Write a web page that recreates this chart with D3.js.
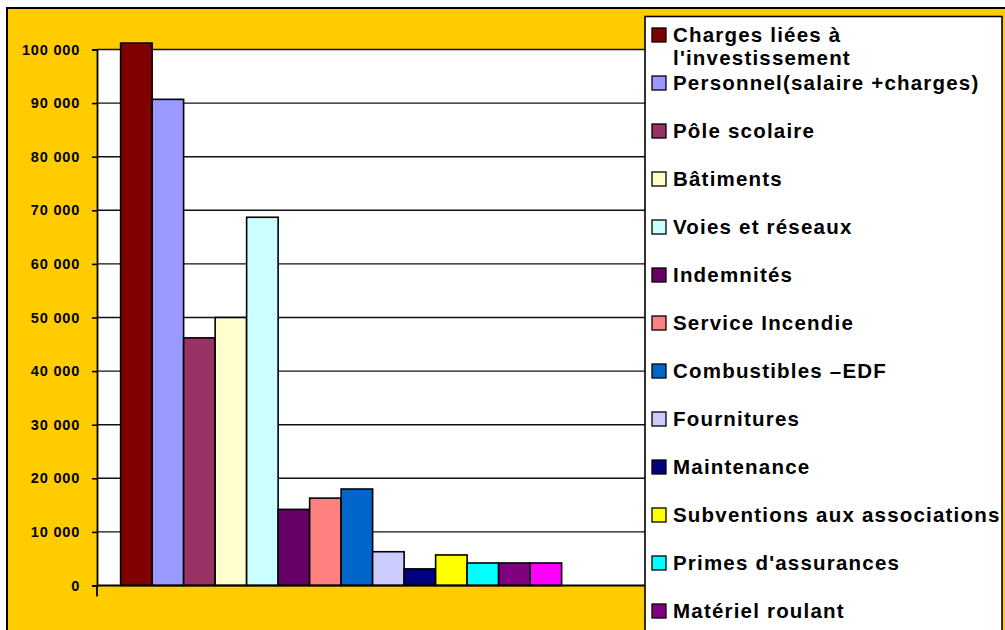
<!DOCTYPE html>
<html>
<head>
<meta charset="utf-8">
<script src="https://cdn.jsdelivr.net/npm/d3@7"></script>
<style>
  body { margin: 0; background: #fff; }
  text { font-family: Arial, "Liberation Sans", sans-serif; font-weight: bold; }
</style>
</head>
<body>
<div id="chart"></div>
<script>

// series (one bar each, single category)
var seriesNames = [
	"Charges liées à l'investissement",
	"Personnel(salaire +charges)",
	"Pôle scolaire",
	"Bâtiments",
	"Voies et réseaux",
	"Indemnités",
	"Service Incendie",
	"Combustibles –EDF",
	"Fournitures",
	"Maintenance",
	"Subventions aux associations",
	"Primes d'assurances",
	"Matériel roulant",
	"Autres"
];
var seriesValues = [101200, 90700, 46200, 50000, 68700, 14200, 16300, 18000, 6300, 3100, 5700, 4200, 4200, 4200];
var seriesColors = ["#800000", "#9999FF", "#993366", "#FFFFCC", "#CCFFFF", "#660066", "#FF8080",
	"#0066CC", "#CCCCFF", "#000080", "#FFFF00", "#00FFFF", "#800080", "#FF00FF"];
var yTicks = [0, 10000, 20000, 30000, 40000, 50000, 60000, 70000, 80000, 90000, 100000];

var W = 1005, H = 630;
var plotL = 97, plotR = 646, plotT = 49.5, plotB = 585.5;
var barW = 31.5; // excel gap width 150% -> 0.75 bar on each side

var svg = d3.select("#chart").append("svg")
	.attr("width", W)
	.attr("height", H);

// outer yellow frame (runs off the right/bottom edge)
svg.append("rect")
	.attr("x", 7).attr("y", 8)
	.attr("width", 1010).attr("height", 640)
	.attr("fill", "#FFCC00")
	.attr("stroke", "#000")
	.attr("stroke-width", 2);

var y = d3.scaleLinear().domain([0, 100000]).range([plotB, plotT]);
var x0 = plotL + 0.75 * barW;
var x = d3.scaleBand()
	.domain(seriesNames)
	.range([x0, x0 + barW * seriesNames.length])
	.padding(0);

// white plot area
svg.append("rect")
	.attr("x", plotL).attr("y", plotT)
	.attr("width", plotR - plotL).attr("height", plotB - plotT)
	.attr("fill", "#fff");

// gridlines
svg.append("g")
	.selectAll("line")
	.data(yTicks.filter(function(d) { return d > 0; }))
	.enter().append("line")
	.attr("x1", plotL).attr("x2", plotR)
	.attr("y1", function(d) { return y(d); })
	.attr("y2", function(d) { return y(d); })
	.attr("stroke", "#111")
	.attr("stroke-width", 1.4);

// y axis
var fmt = function(d) { return d3.format(",")(d).replace(/,/g, " "); };
var yAxis = svg.append("g")
	.attr("transform", "translate(" + plotL + ",0)")
	.call(d3.axisLeft(y).tickValues(yTicks).tickSize(5).tickPadding(12).tickFormat(fmt));
yAxis.select(".domain").attr("stroke", "#000").attr("stroke-width", 1.8);
yAxis.selectAll(".tick line").attr("stroke", "#000").attr("stroke-width", 1.6);
yAxis.selectAll(".tick text")
	.attr("fill", "#000")
	.style("font-size", "14.5px")
	.style("letter-spacing", "0.8px")
	.style("font-family", "Arial, 'Liberation Sans', sans-serif");

// bars
svg.append("g")
	.selectAll("rect")
	.data(seriesValues)
	.enter().append("rect")
	.attr("x", function(d, i) { return x(seriesNames[i]); })
	.attr("width", x.bandwidth())
	.attr("y", function(d) { return y(d); })
	.attr("height", function(d) { return y(0) - y(d); })
	.attr("fill", function(d, i) { return seriesColors[i]; })
	.attr("stroke", "#000")
	.attr("stroke-width", 1.6);

// category axis + its single tick going down
svg.append("line")
	.attr("x1", plotL).attr("x2", plotR)
	.attr("y1", y(0)).attr("y2", y(0))
	.attr("stroke", "#000").attr("stroke-width", 1.8);
svg.append("line")
	.attr("x1", plotL).attr("x2", plotL)
	.attr("y1", y(0)).attr("y2", y(0) + 11)
	.attr("stroke", "#000").attr("stroke-width", 1.8);

// legend box
var lg = svg.append("g");
lg.append("rect")
	.attr("x", 645).attr("y", 16.5)
	.attr("width", 357).attr("height", 700)
	.attr("fill", "#fff")
	.attr("stroke", "#000")
	.attr("stroke-width", 1.6);

var legendItems = seriesNames.map(function(n, i) { return { name: n, color: seriesColors[i], cy: 35 + i * 48 }; })
	.filter(function(d) { return d.cy < H; });

var item = lg.selectAll("g.item")
	.data(legendItems)
	.enter().append("g")
	.attr("class", "item");

item.append("rect")
	.attr("x", 652).attr("y", function(d) { return d.cy - 7; })
	.attr("width", 14).attr("height", 14)
	.attr("fill", function(d) { return d.color; })
	.attr("stroke", "#000")
	.attr("stroke-width", 1.3);

item.append("text")
	.attr("x", 673)
	.attr("y", function(d) { return d.cy + 7; })
	.style("font-size", "20.5px")
	.style("letter-spacing", "1.2px")
	.attr("fill", "#000")
	.each(function(d) {
		var t = d3.select(this);
		// first label is wrapped on two lines in the original
		if (d.name.indexOf("l'investissement") > 0) {
			t.append("tspan").attr("x", 673).text("Charges liées à");
			t.append("tspan").attr("x", 673).attr("dy", 22.5).text("l'investissement");
		} else {
			t.text(d.name);
		}
	});

</script>
</body>
</html>
